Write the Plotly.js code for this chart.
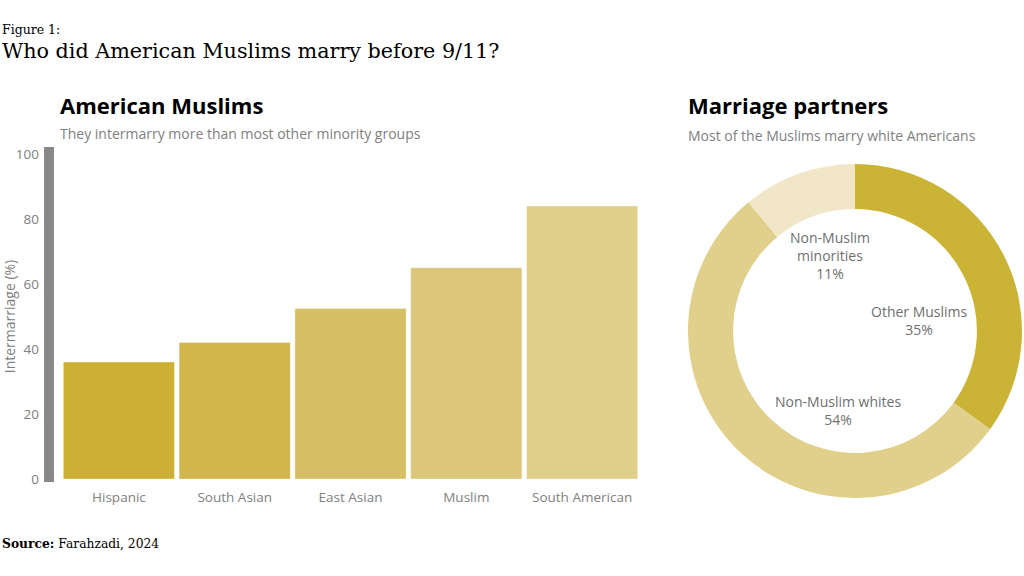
<!DOCTYPE html>
<html>
<head>
<meta charset="utf-8">
<script src="https://cdn.plot.ly/plotly-3.0.1.min.js"></script>
<style>
  html, body { margin: 0; padding: 0; background: #ffffff; }
  #chart { width: 1024px; height: 576px; }
</style>
</head>
<body>
<div id="chart"></div>
<script>
// ---- Data ----
const groups = ['Hispanic', 'South Asian', 'East Asian', 'Muslim', 'South American'];
const intermarriage = [36, 42, 52.5, 65, 84];
const barColors = ['#CBB035', '#D1B64D', '#D6BE64', '#DBC679', '#E0CE8B'];
const yTicks = [0, 20, 40, 60, 80, 100];

const partners = ['Other Muslims', 'Non-Muslim whites', 'Non-Muslim minorities'];
const partnerLabelLines = ['Other Muslims', 'Non-Muslim whites', 'Non-Muslim<br>minorities'];
const partnerShares = [35, 54, 11];
const partnerColors = ['#CBB335', '#E0D08C', '#F1E7C8'];

// ---- Styles ----
const sans = 'Open Sans, Noto Sans, sans-serif';
const serif = 'DejaVu Serif, Liberation Serif, serif';
const grey = '#808080';
const labelGrey = '#6f6f6f';

const barTrace = {
  type: 'bar',
  x: groups,
  y: intermarriage,
  marker: { color: barColors, line: { color: 'rgba(255,255,255,0.35)', width: 1 } },
  xaxis: 'x', yaxis: 'y',
  hoverinfo: 'x+y',
  showlegend: false
};

const pieTrace = {
  type: 'pie',
  labels: partners,
  values: partnerShares,
  marker: { colors: partnerColors, line: { width: 0 } },
  hole: 0.73,
  sort: false,
  direction: 'clockwise',
  rotation: 0,
  textinfo: 'none',
  domain: { x: [0.6714, 0.9985], y: [0.1354, 0.7153] },
  showlegend: false
};

// label anchors inside the donut hole (paper coords)
const pieLabelPos = [[0.8984, 0.4444], [0.8184, 0.2865], [0.8105, 0.557]];
const pieAnnotations = partners.map((p, i) => ({
  xref: 'paper', yref: 'paper',
  x: pieLabelPos[i][0], y: pieLabelPos[i][1],
  xanchor: 'center', yanchor: 'middle',
  text: partnerLabelLines[i] + '<br>' + partnerShares[i] + '%',
  showarrow: false, align: 'center',
  font: { family: sans, size: 14, color: labelGrey }
}));

const layout = {
  width: 1024, height: 576,
  margin: { l: 0, r: 0, t: 0, b: 0 },
  paper_bgcolor: '#ffffff', plot_bgcolor: '#ffffff',
  bargap: 0.04,
  xaxis: {
    domain: [0.0596, 0.625],
    showgrid: false, zeroline: false, showline: false,
    ticks: '', ticklabelstandoff: 8,
    tickfont: { family: sans, size: 13.5, color: grey },
    fixedrange: true
  },
  yaxis: {
    domain: [0.1684, 0.7326],
    range: [0, 100],
    tickvals: yTicks,
    ticktext: yTicks.map(String),
    showgrid: false, zeroline: false, showline: false,
    ticks: '', ticklabelstandoff: 21,
    tickfont: { family: sans, size: 13.5, color: grey },
    title: { text: 'Intermarriage (%)', font: { family: sans, size: 14, color: grey }, standoff: 4 },
    fixedrange: true
  },
  shapes: [{
    type: 'rect', xref: 'paper', yref: 'paper',
    x0: 0.0430, x1: 0.0527, y0: 0.1632, y1: 0.7448,
    fillcolor: '#888888', line: { width: 0 }, layer: 'below'
  }],
  annotations: [
    { xref: 'paper', yref: 'paper', x: 0, y: 0.948, xanchor: 'left', yanchor: 'middle',
      text: 'Figure 1:', showarrow: false, font: { family: serif, size: 12.5, color: '#000000' } },
    { xref: 'paper', yref: 'paper', x: 0, y: 0.912, xanchor: 'left', yanchor: 'middle',
      text: 'Who did American Muslims marry before 9/11?', showarrow: false,
      font: { family: serif, size: 20.7, color: '#000000' } },
    { xref: 'paper', yref: 'paper', x: 0.057, y: 0.817, xanchor: 'left', yanchor: 'middle',
      text: '<b>American Muslims</b>', showarrow: false, font: { family: sans, size: 22, color: '#000000' } },
    { xref: 'paper', yref: 'paper', x: 0.057, y: 0.769, xanchor: 'left', yanchor: 'middle',
      text: 'They intermarry more than most other minority groups', showarrow: false,
      font: { family: sans, size: 14, color: grey } },
    { xref: 'paper', yref: 'paper', x: 0.670, y: 0.817, xanchor: 'left', yanchor: 'middle',
      text: '<b>Marriage partners</b>', showarrow: false, font: { family: sans, size: 22, color: '#000000' } },
    { xref: 'paper', yref: 'paper', x: 0.670, y: 0.765, xanchor: 'left', yanchor: 'middle',
      text: 'Most of the Muslims marry white Americans', showarrow: false,
      font: { family: sans, size: 14, color: grey } },
    { xref: 'paper', yref: 'paper', x: 0, y: 0.056, xanchor: 'left', yanchor: 'middle',
      text: '<b>Source:</b> Farahzadi, 2024', showarrow: false,
      font: { family: serif, size: 12.3, color: '#000000' } }
  ].concat(pieAnnotations)
};

Plotly.newPlot('chart', [barTrace, pieTrace], layout, { displayModeBar: false, staticPlot: true });
</script>
</body>
</html>
